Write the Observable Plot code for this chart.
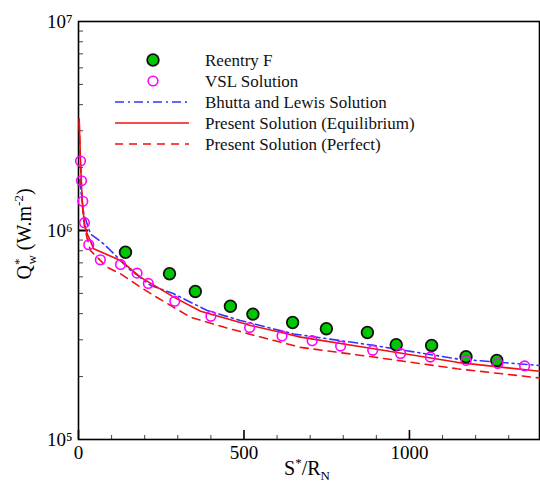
<!DOCTYPE html>
<html>
<head>
<meta charset="utf-8">
<script src="https://cdn.jsdelivr.net/npm/d3@7"></script>
<script src="https://cdn.jsdelivr.net/npm/@observablehq/plot@0.6"></script>
<style>
  body { margin: 0; background: #fff; }
  #chart svg { display: block; }
  #chart svg, #chart svg text { font-family: "Liberation Serif", "DejaVu Serif", serif; }
</style>
</head>
<body>
<div id="chart"></div>
<script>
// Stagnation-line heat flux along the body, S*/R_N vs Q*_w (log scale)

// Reentry F flight data
const reentryS = [142, 275, 353, 459, 527, 647, 749, 873, 960, 1067, 1171, 1264];
const reentryQ = [7.87e5, 6.21e5, 5.11e5, 4.34e5, 3.98e5, 3.63e5, 3.39e5, 3.25e5, 2.84e5, 2.82e5, 2.49e5, 2.39e5];

// VSL solution
const vslS = [6, 9, 13, 18, 31, 66, 127, 177, 211, 291, 400, 517, 615, 706, 792, 889, 973, 1063, 1171, 1267, 1348];
const vslQ = [2.15e6, 1.73e6, 1.38e6, 1.09e6, 8.55e5, 7.24e5, 6.88e5, 6.25e5, 5.58e5, 4.59e5, 3.89e5, 3.43e5, 3.13e5, 2.97e5, 2.80e5, 2.67e5, 2.58e5, 2.48e5, 2.39e5, 2.31e5, 2.25e5];

// Bhutta and Lewis solution
const bhuttaS = [4, 6, 16, 36, 76, 97, 150, 218, 288, 389, 489, 650, 892, 1144, 1393];
const bhuttaQ = [1.75e6, 1.61e6, 1.20e6, 9.64e5, 8.64e5, 8.02e5, 6.6e5, 5.46e5, 4.98e5, 4.14e5, 3.71e5, 3.20e5, 2.82e5, 2.43e5, 2.26e5];

// Present solution, equilibrium gas
const equilS = [2, 6, 11, 18, 26, 31, 46, 127, 187, 288, 369, 449, 520, 610, 671, 892, 1144, 1393];
const equilQ = [3.42e6, 2.16e6, 1.39e6, 1.08e6, 9.64e5, 9.29e5, 8.17e5, 7.19e5, 5.98e5, 4.80e5, 4.11e5, 3.78e5, 3.51e5, 3.26e5, 3.09e5, 2.72e5, 2.34e5, 2.12e5];

// Present solution, perfect gas
const perfectS = [2, 6, 11, 18, 26, 36, 87, 127, 187, 227, 338, 439, 550, 671, 892, 1144, 1393];
const perfectQ = [3.3e6, 2.1e6, 1.35e6, 1.05e6, 9.2e5, 8.02e5, 6.67e5, 6.21e5, 5.36e5, 4.89e5, 3.85e5, 3.45e5, 3.09e5, 2.76e5, 2.48e5, 2.18e5, 1.97e5];

// Axis ticks
const xMajorTicks = [0, 500, 1000];
const xMinorTicks = [100, 200, 300, 400, 600, 700, 800, 900, 1100, 1200, 1300];
const yMajorTicks = [1e5, 1e6, 1e7];
const yTickLabels = ["10\u2075", "10\u2076", "10\u2077"];
const yMinorTicks = [2e5, 3e5, 4e5, 5e5, 6e5, 7e5, 8e5, 9e5, 2e6, 3e6, 4e6, 5e6, 6e6, 7e6, 8e6, 9e6];

const zip = (xs, ys) => xs.map((s, i) => ({s, q: ys[i]}));
const reentry = zip(reentryS, reentryQ);
const vsl = zip(vslS, vslQ);
const bhutta = zip(bhuttaS, bhuttaQ);
const equil = zip(equilS, equilQ);
const perfect = zip(perfectS, perfectQ);

const serif = "Liberation Serif, DejaVu Serif, serif";
const GREEN = "#00c800", MAGENTA = "#ff00ff", BLUE = "#3333ff", RED = "#ee1111";

const plot = Plot.plot({
  width: 540,
  height: 483,
  marginLeft: 78,
  marginRight: 1,
  marginTop: 21,
  marginBottom: 44,
  x: {domain: [0, 1393]},
  y: {type: "log", domain: [1e5, 1e7]},
  style: {fontFamily: serif, background: "white", color: "black"},
  marks: [
    // inward ticks
    Plot.axisX({ticks: xMinorTicks, tickSize: -4, tickFormat: () => "", label: null, stroke: "#444"}),
    Plot.axisX({ticks: xMajorTicks, tickSize: -9, tickFormat: () => "", label: null, strokeWidth: 1.6}),
    Plot.axisX({ticks: xMajorTicks, tickSize: 0, tickPadding: 6, fontSize: 19, label: null, tickFormat: d => String(d)}),
    Plot.axisY({ticks: yMinorTicks, tickSize: -5, tickFormat: () => "", label: null, stroke: "#444"}),
    Plot.axisY({ticks: [1e6], tickSize: -10, tickFormat: () => "", label: null, strokeWidth: 2}),
    Plot.axisY({ticks: yMajorTicks, tickSize: 0, tickPadding: 6, fontSize: 19, label: null,
      tickFormat: d => yTickLabels[yMajorTicks.indexOf(d)]}),
    Plot.frame({stroke: "black", strokeWidth: 1.6}),
    Plot.line(bhutta, {x: "s", y: "q", stroke: BLUE, strokeWidth: 1.6, strokeDasharray: "9,4,2,4"}),
    Plot.line(perfect, {x: "s", y: "q", stroke: RED, strokeWidth: 1.6, strokeDasharray: "8,6"}),
    Plot.line(equil, {x: "s", y: "q", stroke: RED, strokeWidth: 1.6}),
    Plot.dot(reentry, {x: "s", y: "q", r: 5.8, fill: GREEN, stroke: "#111", strokeWidth: 1.8}),
    Plot.dot(vsl, {x: "s", y: "q", r: 4.8, fill: "none", stroke: MAGENTA, strokeWidth: 1.6})
  ]
});

document.getElementById("chart").appendChild(plot);
const svg = d3.select(plot);

// Axis titles with sub/superscripts
const yTitle = svg.append("text")
  .attr("transform", "translate(31,234) rotate(-90)")
  .attr("text-anchor", "middle")
  .attr("font-family", serif)
  .attr("font-size", 20)
  .attr("fill", "black");
yTitle.append("tspan").text("Q");
yTitle.append("tspan").attr("font-size", 13).attr("dy", -8).text("*");
yTitle.append("tspan").attr("font-size", 13).attr("dx", -6).attr("dy", 13).text("w");
yTitle.append("tspan").attr("dy", -5).text(" (W.m");
yTitle.append("tspan").attr("font-size", 13).attr("dy", -8).text("-2");
yTitle.append("tspan").attr("dy", 8).text(")");

const xTitle = svg.append("text")
  .attr("x", 307).attr("y", 475)
  .attr("text-anchor", "middle")
  .attr("font-family", serif)
  .attr("font-size", 20)
  .attr("fill", "black");
xTitle.append("tspan").text("S");
xTitle.append("tspan").attr("font-size", 13).attr("dy", -8).text("*");
xTitle.append("tspan").attr("dy", 8).text("/R");
xTitle.append("tspan").attr("font-size", 13).attr("dy", 5).text("N");

// Legend
const legendItems = [
  {label: "Reentry F", kind: "dot"},
  {label: "VSL Solution", kind: "ring"},
  {label: "Bhutta and Lewis Solution", kind: "line", stroke: BLUE, dash: "9,4,2,4"},
  {label: "Present Solution (Equilibrium)", kind: "line", stroke: RED, dash: null},
  {label: "Present Solution (Perfect)", kind: "line", stroke: RED, dash: "8,6"}
];
const legendY = [60, 81, 102, 123, 144];
const lg = svg.append("g").attr("text-anchor", "start");
legendItems.forEach((it, i) => {
  const y = legendY[i];
  if (it.kind === "dot") {
    lg.append("circle").attr("cx", 153).attr("cy", y).attr("r", 5.8)
      .attr("fill", GREEN).attr("stroke", "#111").attr("stroke-width", 1.8);
  } else if (it.kind === "ring") {
    lg.append("circle").attr("cx", 153).attr("cy", y).attr("r", 4.8)
      .attr("fill", "none").attr("stroke", MAGENTA).attr("stroke-width", 1.6);
  } else {
    lg.append("line").attr("x1", 115).attr("x2", 189).attr("y1", y).attr("y2", y)
      .attr("stroke", it.stroke).attr("stroke-width", 1.6)
      .attr("stroke-dasharray", it.dash);
  }
  lg.append("text").attr("x", 205).attr("y", y).attr("dy", "0.35em")
    .attr("text-anchor", "start")
    .attr("font-family", serif).attr("font-size", 17).attr("fill", "#111")
    .text(it.label);
});
</script>
</body>
</html>
